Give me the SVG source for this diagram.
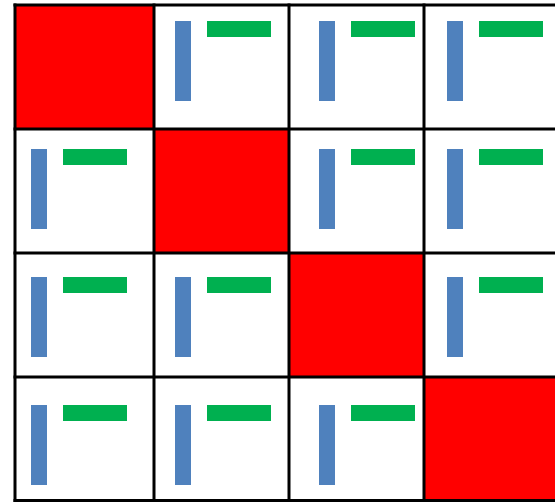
<svg xmlns="http://www.w3.org/2000/svg" width="555" height="502" viewBox="0 0 555 502">
<style>
.red{fill:#FF0000}
.b{fill:#4F81BD}
.g{fill:#00B050}
.grid line{stroke:#000;stroke-width:3}
</style>
<rect width="555" height="502" fill="#fff"/>
<g id="cells">
<rect class="red" x="15" y="5" width="139" height="124"/>
<rect class="red" x="154" y="129" width="135" height="124"/>
<rect class="red" x="289" y="253" width="135" height="124"/>
<rect class="red" x="424" y="377" width="135" height="124"/>
</g>
<g id="bars">
<g id="r1">
<rect class="b" x="175" y="21" width="16" height="80"/><rect class="g" x="207" y="21" width="64" height="16"/>
<rect class="b" x="319" y="21" width="16" height="80"/><rect class="g" x="351" y="21" width="64" height="16"/>
<rect class="b" x="447" y="21" width="16" height="80"/><rect class="g" x="479" y="21" width="64" height="16"/>
</g>
<g id="r2">
<rect class="b" x="31" y="149" width="16" height="80"/><rect class="g" x="63" y="149" width="64" height="16"/>
<rect class="b" x="319" y="149" width="16" height="80"/><rect class="g" x="351" y="149" width="64" height="16"/>
<rect class="b" x="447" y="149" width="16" height="80"/><rect class="g" x="479" y="149" width="64" height="16"/>
</g>
<g id="r3">
<rect class="b" x="31" y="277" width="16" height="80"/><rect class="g" x="63" y="277" width="64" height="16"/>
<rect class="b" x="175" y="277" width="16" height="80"/><rect class="g" x="207" y="277" width="64" height="16"/>
<rect class="b" x="447" y="277" width="16" height="80"/><rect class="g" x="479" y="277" width="64" height="16"/>
</g>
<g id="r4">
<rect class="b" x="31" y="405" width="16" height="80"/><rect class="g" x="63" y="405" width="64" height="16"/>
<rect class="b" x="175" y="405" width="16" height="80"/><rect class="g" x="207" y="405" width="64" height="16"/>
<rect class="b" x="319" y="405" width="16" height="80"/><rect class="g" x="351" y="405" width="64" height="16"/>
</g>
</g>
<g id="grid" class="grid">
<line x1="15" y1="3.5" x2="15" y2="502"/>
<line x1="154" y1="3.5" x2="154" y2="502"/>
<line x1="289" y1="3.5" x2="289" y2="502"/>
<line x1="424" y1="3.5" x2="424" y2="502"/>
<line x1="13.5" y1="5" x2="555" y2="5"/>
<line x1="13.5" y1="129" x2="555" y2="129"/>
<line x1="13.5" y1="253" x2="555" y2="253"/>
<line x1="13.5" y1="377" x2="555" y2="377"/>
<line x1="13.5" y1="500.5" x2="555" y2="500.5"/>
</g>
</svg>
